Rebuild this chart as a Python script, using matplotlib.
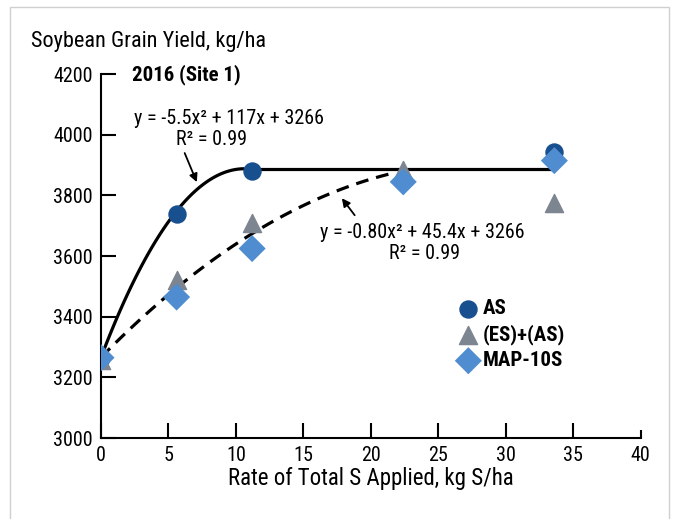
import matplotlib
matplotlib.use('Agg')
import matplotlib.pyplot as plt
import numpy as np
from matplotlib.patches import Rectangle

plt.rcParams['font.family'] = ['Roboto Condensed', 'DejaVu Sans']

# data
rate_as = [0, 5.6, 11.2, 33.6]
yield_as = [3265, 3740, 3880, 3945]
rate_esas = [0, 5.6, 11.2, 22.4, 33.6]
yield_esas = [3258, 3520, 3710, 3885, 3775]
rate_map = [0, 5.6, 11.2, 22.4, 33.6]
yield_map = [3265, 3465, 3625, 3845, 3915]

# quadratic(-plateau) fits shown on the chart
coef_as = [-5.5, 117, 3266]
coef_map = [-0.80, 45.4, 3266]
plateau_end = 33.6
dash_end = 21.5

fig = plt.figure(figsize=(6.78, 5.19), dpi=100)
ax = fig.add_axes([0.149, 0.156, 0.796, 0.701])

# fitted curves
x_vert = -coef_as[1] / (2 * coef_as[0])
xs = np.linspace(0, x_vert, 100)
ax.plot(xs, np.polyval(coef_as, xs), color='black', lw=2.3, zorder=2,
        solid_capstyle='butt')
ax.plot([x_vert, plateau_end], [np.polyval(coef_as, x_vert)] * 2,
        color='black', lw=2.3, zorder=2)
xd = np.linspace(0, dash_end, 100)
ax.plot(xd, np.polyval(coef_map, xd), color='black', lw=2.3, ls=(0, (4, 2.5)),
        zorder=2)

ax.scatter(rate_as, yield_as, s=150, marker='o', color='#174f8f', zorder=3, label='AS')
ax.scatter(rate_esas, yield_esas, s=170, marker='^', color='#7c8590', zorder=4,
           label='(ES)+(AS)')
ax.scatter(rate_map, yield_map, s=190, marker='D', color='#4f8dd0', zorder=5,
           label='MAP-10S', edgecolors='none')

ax.set_xlim(0, 40)
ax.set_ylim(3000, 4200)
ax.set_xticks(range(0, 45, 5))
ax.set_yticks(range(3000, 4400, 200))
ax.spines['top'].set_visible(False)
ax.spines['right'].set_visible(False)
ax.spines['left'].set_linewidth(1.5)
ax.spines['bottom'].set_linewidth(1.5)
ax.tick_params(direction='in', length=11, width=1.5, labelsize=14.5, pad=6)
# last x tick is a short end mark
ax.xaxis.get_major_ticks()[-1].tick1line.set_markersize(6)
ax.set_xlabel('Rate of Total S Applied, kg S/ha', fontsize=16.5, labelpad=1)
ax.set_facecolor('none')

fig.text(0.045, 0.91, 'Soybean Grain Yield, kg/ha', fontsize=16)
ax.text(2.3, 4200, '2016 (Site 1)', fontsize=15, fontweight='bold', va='center')

ax.text(9.5, 4055, 'y = -5.5x² + 117x + 3266', fontsize=14.5, ha='center', va='center')
ax.text(8.2, 3986, 'R² = 0.99', fontsize=14.5, ha='center', va='center')
ax.annotate('', xy=(7.1, 3844), xytext=(6.2, 3940),
            arrowprops=dict(arrowstyle='-|>', color='black', lw=1.3, mutation_scale=12,
                            shrinkA=0, shrinkB=0))

ax.text(23.8, 3679, 'y = -0.80x² + 45.4x + 3266', fontsize=14.5, ha='center', va='center')
ax.text(24.0, 3610, 'R² = 0.99', fontsize=14.5, ha='center', va='center')
ax.annotate('', xy=(17.85, 3791), xytext=(18.8, 3735),
            arrowprops=dict(arrowstyle='-|>', color='black', lw=1.3, mutation_scale=12,
                            shrinkA=0, shrinkB=0))

leg = ax.legend(loc='upper left', bbox_to_anchor=(0.642, 0.405), frameon=False,
                prop={'weight': 'bold', 'size': 15}, handletextpad=0.1,
                labelspacing=0.3, borderaxespad=0, handlelength=1.2)

fig.patches.append(Rectangle((0.015, -0.01), 0.972, 0.997, transform=fig.transFigure,
                             fill=False, edgecolor='#d0d0d0', lw=1))

fig.savefig('out.png', dpi=100)
